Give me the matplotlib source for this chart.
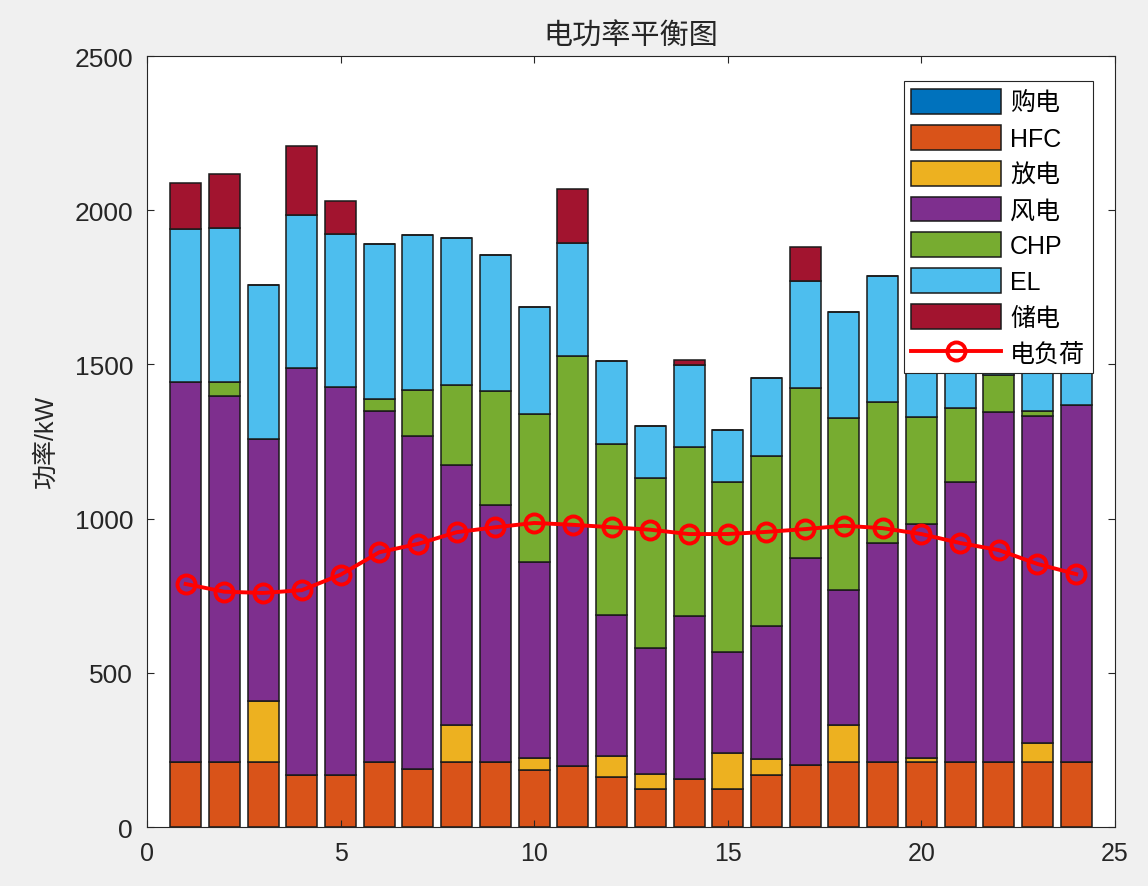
import matplotlib.pyplot as plt
import numpy as np
from matplotlib.patches import Patch
from matplotlib.lines import Line2D

plt.rcParams['font.family'] = ['Liberation Sans', 'Noto Sans CJK SC', 'DejaVu Sans']

# datos (kW)
horas = np.arange(1, 25)
compra = [0] * 24
hfc = [210, 210, 210, 169, 169, 210, 188, 210, 210, 186, 197, 161,
       122, 157, 123, 168, 201, 210, 210, 212, 210, 210, 210, 210]
descarga = [0, 0, 200, 0, 0, 0, 0, 122, 0, 38, 0, 68,
            49, 0, 116, 51, 0, 121, 0, 13, 0, 0, 61, 0]
eolica = [1233, 1188, 848, 1318, 1258, 1138, 1079, 842, 834, 636, 781, 458,
          410, 526, 327, 434, 671, 438, 711, 758, 910, 1135, 1063, 1159]
chp = [0, 44, 0, 0, 0, 40, 151, 259, 369, 479, 550, 554,
       551, 549, 554, 550, 550, 556, 458, 347, 239, 122, 15, 0]
el = [496, 501, 500, 498, 496, 502, 501, 477, 443, 346, 367, 269,
      169, 267, 166, 254, 349, 346, 409, 430, 400, 350, 420, 400]
almacen = [149, 176, 0, 222, 108, 0, 0, 0, 0, 0, 174, 0,
           0, 15, 0, 0, 109, 0, 0, 0, 0, 0, 0, 0]
carga = [788, 763, 759, 768, 818, 891, 918, 956, 972, 986, 980, 972,
         964, 950, 950, 957, 966, 977, 969, 950, 921, 898, 853, 820]

series = [compra, hfc, descarga, eolica, chp, el, almacen]
nombres = ['购电', 'HFC', '放电', '风电', 'CHP', 'EL', '储电']
colores = ['#0072BD', '#D95319', '#EDB120', '#7E2F8E', '#77AC30', '#4DBEEE', '#A2142F']

fig = plt.figure(figsize=(11.48, 8.87), dpi=100, facecolor='#f0f0f0')
ax = fig.add_axes([0.128, 0.0665, 0.8432, 0.8692])

base = np.zeros(24)
for vals, c in zip(series, colores):
    ax.bar(horas, vals, bottom=base, width=0.8, color=c, edgecolor='#1a1a1a', linewidth=1.1)
    base += np.array(vals)

ax.plot(horas, carga, 'r-o', linewidth=2.8, markersize=13, markerfacecolor='none',
        markeredgewidth=2.8)

ax.set_xlim(0, 25)
ax.set_ylim(0, 2500)
ax.set_xticks(range(0, 26, 5))
ax.set_yticks(range(0, 2501, 500))
ax.tick_params(direction='in', top=True, right=True, length=5, colors='#262626',
               labelcolor='#262626')
ax.tick_params(axis='y', labelsize=19, pad=10)
ax.tick_params(axis='x', labelsize=18, pad=10)
for s in ax.spines.values():
    s.set_color('#262626')

ax.set_title('电功率平衡图', fontsize=21, color='#262626', pad=9,
             family=['Noto Sans CJK SC'], fontweight='light')
ax.set_ylabel('功率/kW', fontsize=18, color='#262626', labelpad=12)

handles = [Patch(facecolor=c, edgecolor='#1a1a1a', linewidth=1.1) for c in colores]
handles.append(Line2D([0], [0], color='r', marker='o', linewidth=2.8, markersize=13,
                      markerfacecolor='none', markeredgewidth=2.8))
leg = ax.legend(handles, nombres + ['电负荷'], loc='upper right',
                bbox_to_anchor=(0.977, 0.967), fontsize=18, handlelength=3.6,
                handleheight=1.15, labelspacing=0.4, handletextpad=0.35,
                borderpad=0.3, borderaxespad=0, fancybox=False, framealpha=1,
                edgecolor='#262626')
leg.get_frame().set_linewidth(0.8)

fig.savefig('out.png', dpi=100, facecolor=fig.get_facecolor())
